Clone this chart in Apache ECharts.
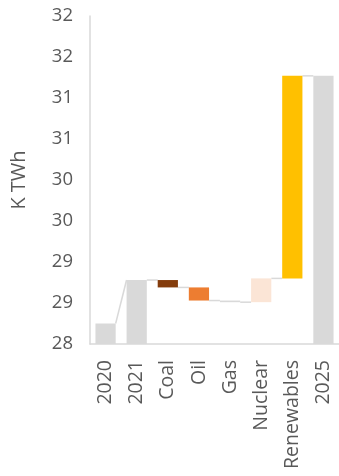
<!DOCTYPE html>
<html>
<head>
<meta charset="utf-8">
<script src="https://cdn.jsdelivr.net/npm/echarts@6/dist/echarts.min.js"></script>
<style>
  html, body { margin: 0; padding: 0; background: #fff; }
  #main { width: 339px; height: 476px; }
</style>
</head>
<body>
<div id="main"></div>
<script>
var categories = ['2020', '2021', 'Coal', 'Oil', 'Gas', 'Nuclear', 'Renewables', '2025'];
// totals are absolute values, the rest are changes
var values = [28.25, 28.78, -0.09, -0.16, -0.02, 0.29, 2.47, 31.27];
var isTotal = [true, true, false, false, false, false, false, true];
var colors = ['#D9D9D9', '#D9D9D9', '#843C0C', '#ED7D31', '#D9D9D9', '#FBE5D6', '#FFC000', '#D9D9D9'];

// build start / end of every bar
var starts = [], ends = [];
var running = 0;
for (var i = 0; i < values.length; i++) {
    if (isTotal[i]) {
        starts.push(values[i]);
        ends.push(values[i]);
        running = values[i];
    } else {
        starts.push(running);
        running = +(running + values[i]).toFixed(4);
        ends.push(running);
    }
}

var baseData = [], barData = [];
for (var i = 0; i < values.length; i++) {
    if (isTotal[i]) {
        baseData.push(0);
        barData.push({ value: values[i], itemStyle: { color: colors[i] } });
    } else {
        var lo = Math.min(starts[i], ends[i]);
        baseData.push(lo);
        barData.push({ value: Math.abs(values[i]), itemStyle: { color: colors[i] } });
    }
}

var connData = [];
for (var i = 0; i < values.length - 1; i++) {
    connData.push([i, ends[i], starts[i + 1]]);
}

var myChart = echarts.init(document.getElementById('main'));
var textColor = '#595959';
var font = '"Open Sans", sans-serif';

var option = {
    animation: false,
    grid: { left: 90, right: -3.5, top: 16, bottom: 132 },
    xAxis: {
        type: 'category',
        data: categories,
        axisLine: { lineStyle: { color: '#D9D9D9', width: 1.5 } },
        axisTick: { show: false },
        axisLabel: { rotate: 90, margin: 16, color: textColor, fontSize: 19.5, fontFamily: font, interval: 0 }
    },
    yAxis: {
        type: 'value',
        min: 28,
        max: 32,
        interval: 0.5,
        name: 'K TWh',
        nameLocation: 'middle',
        nameRotate: 90,
        nameGap: 61,
        nameTextStyle: { color: textColor, fontSize: 20, fontFamily: font },
        axisLine: { show: true, lineStyle: { color: '#D9D9D9', width: 1.5 } },
        axisTick: { show: false },
        splitLine: { show: false },
        axisLabel: {
            margin: 17, color: textColor, fontSize: 18.5, fontFamily: font,
            formatter: function (v) { return Math.round(v); }
        }
    },
    series: [
        {
            type: 'bar',
            stack: 'w',
            barWidth: '65%',
            itemStyle: { color: 'transparent' },
            data: baseData,
            silent: true
        },
        {
            type: 'bar',
            stack: 'w',
            barWidth: '65%',
            data: barData
        },
        {
            type: 'custom',
            data: connData,
            encode: { x: 0, y: [1, 2] },
            renderItem: function (params, api) {
                var i = api.value(0);
                var half = api.size([1, 0])[0] * 0.65 / 2;
                var p1 = api.coord([i, api.value(1)]);
                var p2 = api.coord([i + 1, api.value(2)]);
                return {
                    type: 'line',
                    shape: { x1: p1[0] + half, y1: p1[1], x2: p2[0] - half, y2: p2[1] },
                    style: { stroke: '#D9D9D9', lineWidth: 1.5 }
                };
            },
            z: 1
        }
    ]
};

myChart.setOption(option);
</script>
</body>
</html>
